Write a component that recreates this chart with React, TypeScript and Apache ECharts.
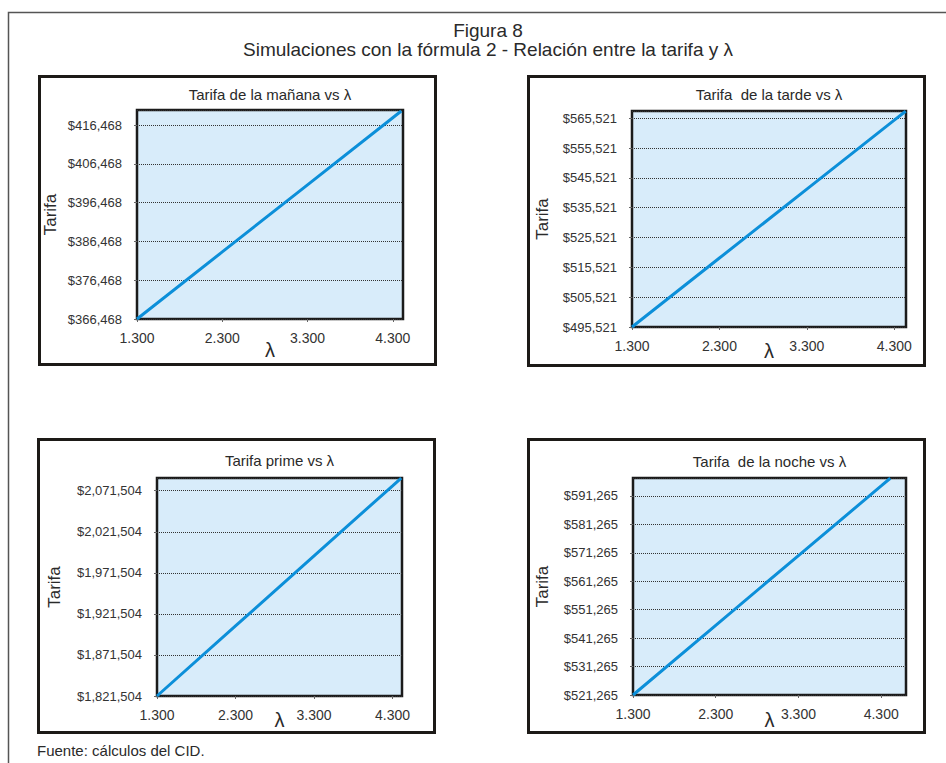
import React, { useEffect, useRef } from "react";
import * as echarts from "echarts";

// λ values sampled along each simulation
const lambdaManana = [1.3, 2.3, 3.3, 4.3, 4.4];
const lambdaTarde = [1.3, 2.3, 3.3, 4.3, 4.43];
const lambdaPrime = [1.3, 2.3, 3.3, 4.3, 4.41];
const lambdaNoche = [1.3, 2.3, 3.3, 4.3, 4.41];

// Tariff obtained with fórmula 2 for each λ
const tarifaManana = [366468, 383760, 401050, 418350, 420080];
const tarifaTarde = [495521, 518650, 541770, 564890, 567900];
const tarifaPrime = [1821504, 1906840, 1992180, 2077510, 2086900];
const tarifaNoche = [521265, 545780, 570290, 594800, 597500];

// Axis tick labels
const xTicks = [1.3, 2.3, 3.3, 4.3];
const yTicksManana = [366468, 376468, 386468, 396468, 406468, 416468];
const yTicksTarde = [495521, 505521, 515521, 525521, 535521, 545521, 555521, 565521];
const yTicksPrime = [1821504, 1871504, 1921504, 1971504, 2021504, 2071504];
const yTicksNoche = [521265, 531265, 541265, 551265, 561265, 571265, 581265, 591265];

const titles = [
  "Tarifa de la mañana vs λ",
  "Tarifa  de la tarde vs λ",
  "Tarifa prime vs λ",
  "Tarifa  de la noche vs λ",
];

const FONT = '"Liberation Sans", "DejaVu Sans", sans-serif';
const INK = "#2a2a2a";

const panels = [
  {
    title: titles[0], xs: lambdaManana, ys: tarifaManana, yTicks: yTicksManana,
    xMax: 4.42, yMax: 420334,
    box: [39.5, 76.5, 396, 288], grid: [137, 110, 266, 209], yNameGap: 78, xNameGap: 21, titleY: 94,
  },
  {
    title: titles[1], xs: lambdaTarde, ys: tarifaTarde, yTicks: yTicksTarde,
    xMax: 4.434, yMax: 567973,
    box: [528.5, 76.5, 396, 289], grid: [632, 111, 274, 216], yNameGap: 81, xNameGap: 14, titleY: 94,
  },
  {
    title: titles[2], xs: lambdaPrime, ys: tarifaPrime, yTicks: yTicksPrime,
    xMax: 4.42, yMax: 2086970,
    box: [38.5, 439.5, 396, 293], grid: [157, 478, 245, 218], yNameGap: 94, xNameGap: 14, titleY: 460,
  },
  {
    title: titles[3], xs: lambdaNoche, ys: tarifaNoche, yTicks: yTicksNoche,
    xMax: 4.6, yMax: 597590,
    box: [528.5, 439.5, 396, 293], grid: [633, 478, 273, 217], yNameGap: 82, xNameGap: 15, titleY: 461,
  },
];

export default function App() {
  const ref = useRef<HTMLDivElement>(null);

  useEffect(() => {
    if (!ref.current) return;
    const chart = echarts.init(ref.current, undefined, { renderer: "svg" });
    const xInterval = Math.round((xTicks[1] - xTicks[0]) * 1000) / 1000;

    const graphics: any[] = [
      // outer frame (top and left edges)
      {
        type: "polyline",
        shape: { points: [[8.5, 763], [8.5, 12.5], [946, 12.5]] },
        style: { stroke: "#555", lineWidth: 1.5, fill: null },
      },
      {
        type: "text", x: 488, y: 30,
        style: { text: "Figura 8", textAlign: "center", textVerticalAlign: "middle", fontSize: 19, fontFamily: FONT, fill: INK },
      },
      {
        type: "text", x: 488, y: 49,
        style: { text: "Simulaciones con la fórmula 2 - Relación entre la tarifa y λ", textAlign: "center", textVerticalAlign: "middle", fontSize: 19, fontFamily: FONT, fill: INK },
      },
      {
        type: "text", x: 37, y: 750,
        style: { text: "Fuente: cálculos del CID.", textAlign: "left", textVerticalAlign: "middle", fontSize: 15, fontFamily: FONT, fill: INK },
      },
    ];

    panels.forEach((p) => {
      const [bx, by, bw, bh] = p.box;
      const [gl, , gw] = p.grid;
      graphics.push({
        type: "rect",
        shape: { x: bx, y: by, width: bw, height: bh },
        style: { fill: null, stroke: "#1d1a17", lineWidth: 3 },
      });
      graphics.push({
        type: "text", x: gl + gw / 2, y: p.titleY,
        style: { text: p.title, textAlign: "center", textVerticalAlign: "middle", fontSize: 15, fontFamily: FONT, fill: INK },
      });
    });

    chart.setOption({
      animation: false,
      backgroundColor: "#ffffff",
      grid: panels.map((p) => ({
        left: p.grid[0], top: p.grid[1], width: p.grid[2], height: p.grid[3],
        show: true, backgroundColor: "#d8ecfa", borderColor: "#1b1b1b", borderWidth: 2.5,
      })),
      xAxis: panels.map((p, i) => ({
        type: "value", gridIndex: i,
        min: xTicks[0], max: p.xMax, interval: xInterval,
        name: "λ", nameLocation: "middle", nameGap: p.xNameGap, nameMoveOverlap: false,
        nameTextStyle: { fontSize: 20, color: INK, fontFamily: FONT },
        axisLine: { show: false },
        axisTick: { show: true, length: 3, lineStyle: { color: "#666" } },
        axisLabel: {
          formatter: (v: number) => v.toFixed(3),
          showMaxLabel: false, showMinLabel: true,
          margin: 12, fontSize: 14, color: "#333", fontFamily: FONT,
        },
        splitLine: { show: false },
      })),
      yAxis: panels.map((p, i) => ({
        type: "value", gridIndex: i,
        min: p.yTicks[0], max: p.yMax, interval: p.yTicks[1] - p.yTicks[0],
        name: "Tarifa", nameLocation: "middle", nameGap: p.yNameGap, nameRotate: 90,
        nameTextStyle: { fontSize: 17, color: INK, fontFamily: FONT },
        axisLine: { show: false },
        axisTick: { show: true, length: 3, lineStyle: { color: "#666" } },
        axisLabel: {
          formatter: (v: number) => "$" + Math.round(v).toLocaleString("en-US"),
          showMaxLabel: false, showMinLabel: true,
          margin: 15, fontSize: 13, color: "#333", fontFamily: FONT,
        },
        splitLine: { show: true, lineStyle: { type: "dotted", color: "#333", width: 1 } },
      })),
      series: panels.map((p, i) => ({
        type: "line", xAxisIndex: i, yAxisIndex: i,
        data: p.xs.map((x, k) => [x, p.ys[k]]),
        showSymbol: false, symbol: "none",
        lineStyle: { color: "#0c8fd9", width: 3 },
        z: 3,
      })),
      graphic: graphics,
    });

    return () => chart.dispose();
  }, []);

  return (
    <div
      ref={ref}
      style={{ position: "absolute", left: 0, top: 0, width: 946, height: 763, background: "#fff" }}
    />
  );
}
